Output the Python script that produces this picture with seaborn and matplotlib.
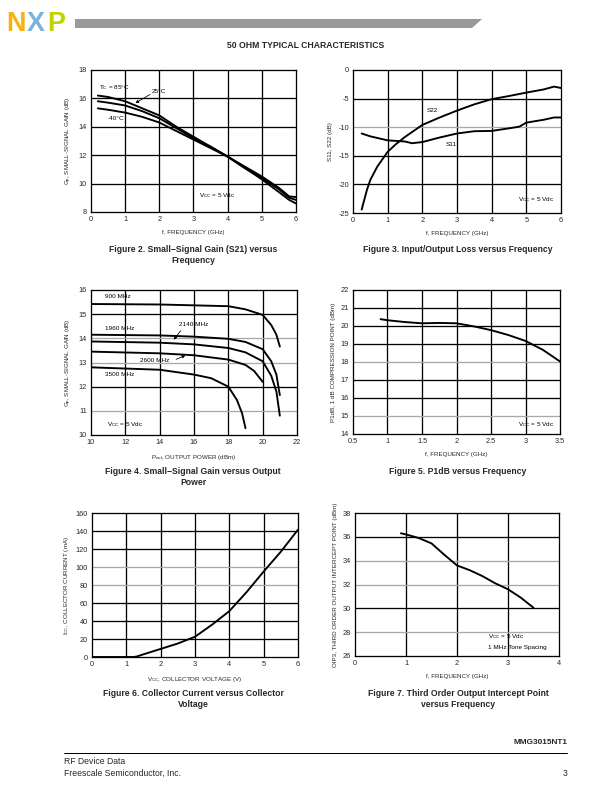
import matplotlib
import pandas as pd
import seaborn as sns

matplotlib.use("Agg")
import matplotlib.pyplot as plt
from matplotlib.patches import Polygon

# Figure 2: small-signal gain vs frequency
f2_freq = [0.2, 0.5, 1.0, 1.5, 2.0, 2.5, 3.0, 3.5, 4.0, 4.5, 5.0, 5.5, 5.8, 6.0]
f2_gain_85 = [16.2, 16.1, 15.8, 15.3, 14.8, 14.0, 13.3, 12.6, 11.9, 11.2, 10.5, 9.7, 9.1, 9.05]
f2_gain_25 = [15.8, 15.7, 15.5, 15.1, 14.6, 13.9, 13.2, 12.6, 11.9, 11.1, 10.4, 9.6, 9.0, 8.85]
f2_gain_m40 = [15.3, 15.2, 15.0, 14.7, 14.3, 13.7, 13.1, 12.5, 11.9, 11.1, 10.3, 9.4, 8.85, 8.6]

# Figure 3: input/output loss vs frequency
f3_freq_s22 = [0.25, 0.4, 0.5, 0.7, 1.0, 1.25, 1.5, 2.0, 2.5, 3.0, 3.5, 4.0, 4.5, 5.0, 5.5, 5.8, 6.0]
f3_s22 = [-24.4, -21.0, -19.2, -16.9, -14.3, -12.9, -11.7, -9.6, -8.3, -7.1, -6.0, -5.1, -4.55, -3.95, -3.4, -2.9, -3.15]
f3_freq_s11 = [0.25, 0.5, 1.0, 1.5, 1.7, 2.0, 2.5, 3.0, 3.5, 4.0, 4.5, 4.8, 5.0, 5.5, 5.8, 6.0]
f3_s11 = [-11.1, -11.6, -12.3, -12.5, -12.8, -12.6, -11.8, -11.1, -10.7, -10.65, -10.2, -9.9, -9.2, -8.7, -8.3, -8.3]

# Figure 4: small-signal gain vs output power
f4_p900 = [10, 14, 18, 19, 20, 20.5, 20.8, 21]
f4_g900 = [15.42, 15.4, 15.33, 15.2, 14.97, 14.55, 14.15, 13.66]
f4_p1960 = [10, 14, 16, 18, 19, 20, 20.5, 20.8, 21]
f4_g1960 = [14.15, 14.12, 14.07, 13.98, 13.85, 13.55, 13.05, 12.5, 11.65]
f4_p2140 = [10, 14, 16, 18, 19, 20, 20.5, 20.8, 21]
f4_g2140 = [13.87, 13.82, 13.75, 13.6, 13.42, 13.05, 12.45, 11.8, 10.8]
f4_p2600 = [10, 14, 16, 18, 19, 19.5, 20]
f4_g2600 = [13.45, 13.38, 13.3, 13.12, 12.9, 12.65, 12.2]
f4_p3500 = [10, 14, 16, 17, 18, 18.5, 18.8, 19]
f4_g3500 = [12.8, 12.7, 12.5, 12.35, 12.0, 11.45, 10.9, 10.28]

# Figure 5: P1dB vs frequency
f5_freq = [0.9, 1.0, 1.25, 1.5, 1.75, 2.0, 2.25, 2.5, 2.75, 3.0, 3.25, 3.5]
f5_p1db = [20.38, 20.32, 20.22, 20.15, 20.17, 20.15, 19.98, 19.77, 19.5, 19.17, 18.68, 18.03]

# Figure 6: collector current vs collector voltage
f6_vcc = [0, 0.5, 1.0, 1.2, 1.3, 1.5, 2.0, 2.5, 3.0, 3.5, 4.0, 4.5, 5.0, 5.5, 6.0]
f6_icc = [0, 0, 0, 0, 0.5, 3, 9, 15, 22.5, 36, 51, 72, 95, 117, 141.5]

# Figure 7: OIP3 vs frequency
f7_freq = [0.9, 1.0, 1.25, 1.5, 1.75, 2.0, 2.25, 2.5, 2.75, 3.0, 3.25, 3.5]
f7_oip3 = [36.3, 36.2, 35.9, 35.45, 34.5, 33.6, 33.2, 32.7, 32.1, 31.6, 30.9, 30.05]

FONT = ["Liberation Sans", "DejaVu Sans"]
GRAY = "#a8a8a8"

sns.set_style("white")
plt.rcParams["font.family"] = FONT
plt.rcParams["axes.unicode_minus"] = False
plt.rcParams["mathtext.fontset"] = "custom"
plt.rcParams["mathtext.rm"] = "Liberation Sans"
plt.rcParams["mathtext.it"] = "Liberation Sans"

W, H = 612, 792
fig = plt.figure(figsize=(W / 72, H / 72), dpi=72)


def box(left, top, right, bottom):
    return fig.add_axes([left / W, 1 - bottom / H, (right - left) / W, (bottom - top) / H])


def page_text(x, y, s, **kw):
    fig.text(x / W, 1 - y / H, s, **kw)


def style(ax, xlim, ylim, xticks, yticks, xlabel, ylabel, gray_y=(), xfmt=None):
    ax.set_xlim(*xlim)
    ax.set_ylim(*ylim)
    ax.set_xticks(xticks)
    ax.set_yticks(yticks)
    if xfmt:
        ax.set_xticklabels([xfmt(v) for v in xticks])
    for v in xticks[1:-1]:
        ax.axvline(v, color="black", lw=1.3, zorder=1)
    for v in yticks[1:-1]:
        ax.axhline(v, color=GRAY if v in gray_y else "black", lw=1.3, zorder=1)
    for sp in ax.spines.values():
        sp.set_color("black")
        sp.set_linewidth(1.3)
    ax.tick_params(length=0, pad=4, labelsize=7.4)
    ax.set_xlabel(xlabel, fontsize=6.3, labelpad=7)
    ax.set_ylabel(ylabel, fontsize=6.3, labelpad=5)


def curve(ax, x, y):
    sns.lineplot(x=x, y=y, ax=ax, color="black", lw=1.9, sort=False, zorder=3)


txt = dict(fontsize=6.4, color="black")
arrow = dict(arrowstyle="-|>", color="black", lw=0.8, mutation_scale=6)

# ---------- Figure 2
ax2 = box(91, 70, 296, 212)
curve(ax2, f2_freq, f2_gain_85)
curve(ax2, f2_freq, f2_gain_25)
curve(ax2, f2_freq, f2_gain_m40)
style(ax2, (0, 6), (8, 18), list(range(0, 7)), list(range(8, 19, 2)),
      "f, FREQUENCY (GHz)", r"G$_p$, SMALL-SIGNAL GAIN (dB)")
ax2.text(0.22, 16.75, r"T$_C$ = 85°C", va="center", **txt)
ax2.text(1.78, 16.5, "25°C", va="center", **txt)
ax2.annotate("", xy=(1.25, 15.6), xytext=(1.78, 16.35), arrowprops=arrow)
ax2.text(0.48, 14.6, "-40°C", va="center", **txt)
ax2.text(3.15, 9.15, r"V$_{CC}$ = 5 Vdc", va="center", **txt)

# ---------- Figure 3
ax3 = box(353, 70, 561, 213)
curve(ax3, f3_freq_s22, f3_s22)
curve(ax3, f3_freq_s11, f3_s11)
style(ax3, (0, 6), (-25, 0), list(range(0, 7)), list(range(-25, 1, 5)),
      "f, FREQUENCY (GHz)", "S11, S22 (dB)", gray_y=(-10,))
ax3.text(2.28, -7.0, "S22", ha="center", va="center", **txt)
ax3.text(2.82, -13.0, "S11", ha="center", va="center", **txt)
ax3.text(5.8, -22.7, r"V$_{CC}$ = 5 Vdc", ha="right", va="center", **txt)

# ---------- Figure 4
ax4 = box(91, 290, 297, 435)
for p, g in [(f4_p900, f4_g900), (f4_p1960, f4_g1960), (f4_p2140, f4_g2140),
             (f4_p2600, f4_g2600), (f4_p3500, f4_g3500)]:
    curve(ax4, p, g)
style(ax4, (10, 22), (10, 16), list(range(10, 23, 2)), list(range(10, 17)),
      r"P$_{out}$, OUTPUT POWER (dBm)", r"G$_p$, SMALL-SIGNAL GAIN (dB)", gray_y=(11, 13, 14))
ax4.text(10.8, 15.72, "900 MHz", va="center", **txt)
ax4.text(10.8, 14.4, "1960 MHz", va="center", **txt)
ax4.text(16.0, 14.57, "2140 MHz", ha="center", va="center", **txt)
ax4.annotate("", xy=(14.75, 13.88), xytext=(15.3, 14.38), arrowprops=arrow)
ax4.text(13.7, 13.07, "2600 MHz", ha="center", va="center", **txt)
ax4.annotate("", xy=(15.6, 13.32), xytext=(14.85, 13.1), arrowprops=arrow)
ax4.text(10.8, 12.5, "3500 MHz", va="center", **txt)
ax4.text(10.95, 10.42, r"V$_{CC}$ = 5 Vdc", va="center", **txt)

# ---------- Figure 5
ax5 = box(353, 290, 560, 434)
curve(ax5, f5_freq, f5_p1db)
style(ax5, (0.5, 3.5), (14, 22), [0.5, 1, 1.5, 2, 2.5, 3, 3.5], list(range(14, 23)),
      "f, FREQUENCY (GHz)", "P1dB, 1 dB COMPRESSION POINT (dBm)", gray_y=(15, 18),
      xfmt=lambda v: f"{v:g}")
ax5.text(3.42, 14.5, r"V$_{CC}$ = 5 Vdc", ha="right", va="center", **txt)

# ---------- Figure 6
ax6 = box(92, 513, 298, 657)
curve(ax6, f6_vcc, f6_icc)
style(ax6, (0, 6), (0, 160), list(range(0, 7)), list(range(0, 161, 20)),
      r"V$_{CC}$, COLLECTOR VOLTAGE (V)", r"I$_{CC}$, COLLECTOR CURRENT (mA)", gray_y=(80, 100))

# ---------- Figure 7
ax7 = box(355, 513, 559, 656)
curve(ax7, f7_freq, f7_oip3)
style(ax7, (0, 4), (26, 38), list(range(0, 5)), list(range(26, 39, 2)),
      "f, FREQUENCY (GHz)", "OIP3, THIRD ORDER OUTPUT INTERCEPT POINT (dBm)", gray_y=(28, 32, 34))
ax7.text(2.6, 27.6, r"V$_{CC}$ = 5 Vdc", va="center", **txt)
ax7.text(2.6, 26.75, "1 MHz Tone Spacing", va="center", **txt)

# ---------- captions
cap = dict(fontsize=8.6, fontweight="bold", ha="center", va="center", linespacing=1.15)
page_text(193, 255, "Figure 2. Small−Signal Gain (S21) versus\nFrequency", **cap)
page_text(458, 249, "Figure 3. Input/Output Loss versus Frequency", **cap)
page_text(193, 477, "Figure 4. Small−Signal Gain versus Output\nPower", **cap)
page_text(458, 471, "Figure 5. P1dB versus Frequency", **cap)
page_text(193, 699, "Figure 6. Collector Current versus Collector\nVoltage", **cap)
page_text(458, 699, "Figure 7. Third Order Output Intercept Point\nversus Frequency", **cap)

# ---------- header (logo + bar)
logo = dict(fontsize=27, fontweight="bold", va="baseline")
page_text(6, 31, "N", color="#f6b20f", **logo)
page_text(27, 31, "X", color="#79b3de", **logo)
page_text(47, 31, "P", color="#c2d100", **logo)
bar = Polygon([(75 / W, 1 - 19 / H), (482 / W, 1 - 19 / H), (472 / W, 1 - 28 / H), (75 / W, 1 - 28 / H)],
              closed=True, transform=fig.transFigure, color="#999999", lw=0)
fig.add_artist(bar)
page_text(306, 45, "50 OHM TYPICAL CHARACTERISTICS", fontsize=8.6, fontweight="bold",
          ha="center", va="center")

# ---------- footer
fig.add_artist(plt.Line2D([64 / W, 567 / W], [1 - 753 / H, 1 - 753 / H],
                          transform=fig.transFigure, color="black", lw=1.0))
page_text(567, 742, "MMG3015NT1", fontsize=8.2, fontweight="bold", ha="right", va="center")
page_text(64, 761, "RF Device Data", fontsize=8.6, va="center")
page_text(64, 773, "Freescale Semiconductor, Inc.", fontsize=8.6, va="center")
page_text(567, 774, "3", fontsize=8.6, ha="right", va="center")

fig.savefig("out.png", dpi=72)
